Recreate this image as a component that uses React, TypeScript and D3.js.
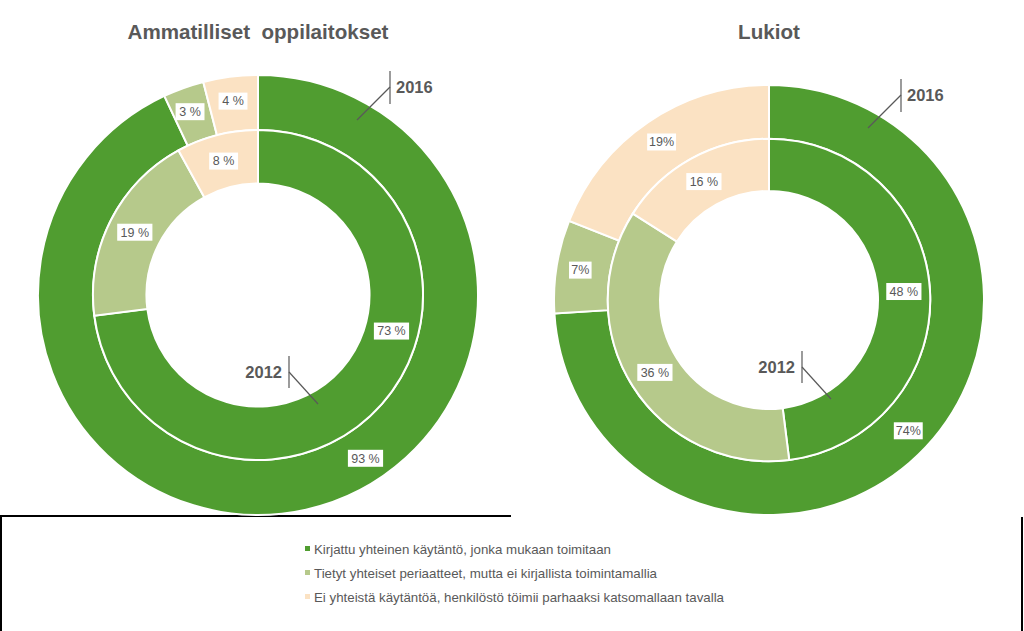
import React from "react";
import * as d3 from "d3";

const categories = [
  "Kirjattu yhteinen käytäntö, jonka mukaan toimitaan",
  "Tietyt yhteiset periaatteet, mutta ei kirjallista toimintamallia",
  "Ei yhteistä käytäntöä, henkilöstö töimii parhaaksi katsomallaan tavalla",
];
const chartTitles = ["Ammatilliset oppilaitokset", "Lukiot"];
const seriesNames = ["2016", "2012"];
const amm2016 = [93, 3, 4];
const amm2012 = [73, 19, 8];
const luk2016 = [74, 7, 19];
const luk2012 = [48, 36, 16];
const ammLabels2016 = ["93 %", "3 %", "4 %"];
const ammLabels2012 = ["73 %", "19 %", "8 %"];
const lukLabels2016 = ["74%", "7%", "19%"];
const lukLabels2012 = ["48 %", "36 %", "16 %"];

const colors = ["#509D30", "#B6C98B", "#FBE2C3"];
const textGray = "#595959";
const legendTextWidths = [297, 343, 410];

const W = 1024;
const H = 631;

type ChartCfg = {
  title: string;
  cx: number;
  cy: number;
  r: number;
  outer: number[];
  inner: number[];
  outerLabels: string[];
  innerLabels: string[];
  outerFrac: number[];
  innerFrac: number[];
  a2016: { dx: number; dy: number };
  a2012: { dx: number; dy: number };
};

const charts: ChartCfg[] = [
  {
    title: chartTitles[0],
    cx: 258,
    cy: 295,
    r: 220,
    outer: amm2016,
    inner: amm2012,
    outerLabels: ammLabels2016,
    innerLabels: ammLabels2012,
    outerFrac: [0.438, 0.45, 0.49],
    innerFrac: [0.4, 0.5, 0.5],
    a2016: { dx: 132, dy: -208 },
    a2012: { dx: 31, dy: 77 },
  },
  {
    title: chartTitles[1],
    cx: 769,
    cy: 300,
    r: 215,
    outer: luk2016,
    inner: luk2012,
    outerLabels: lukLabels2016,
    innerLabels: lukLabels2012,
    outerFrac: [0.5, 0.5, 0.5],
    innerFrac: [0.5, 0.5, 0.5],
    a2016: { dx: 132, dy: -205 },
    a2012: { dx: 33, dy: 67 },
  },
];

function Label({ x, y, text }: { x: number; y: number; text: string }) {
  const w = text.length * 6.3 + 10;
  return (
    <g>
      <rect x={x - w / 2} y={y - 8.5} width={w} height={17} fill="#fff" />
      <text
        x={x}
        y={y + 4.3}
        textAnchor="middle"
        fontSize={12.5}
        fill={textGray}
        fontFamily="Liberation Sans, Arial, sans-serif"
      >
        {text}
      </text>
    </g>
  );
}

function Donut({ c }: { c: ChartCfg }) {
  const pie = d3.pie<number>().sort(null).value((d) => d);
  const rO = c.r;
  const rM = c.r * 0.75;
  const rI = c.r * 0.507;
  const outerArcs = pie(c.outer);
  const innerArcs = pie(c.inner);
  const arcO = d3.arc<d3.PieArcDatum<number>>().innerRadius(rM).outerRadius(rO);
  const arcI = d3.arc<d3.PieArcDatum<number>>().innerRadius(rI).outerRadius(rM);
  const pos = (a: d3.PieArcDatum<number>, f: number, rr: number) => {
    const ang = a.startAngle + f * (a.endAngle - a.startAngle);
    return [Math.sin(ang) * rr, -Math.cos(ang) * rr];
  };
  const s = c.r / 220;
  return (
    <g>
      <text
        x={c.cx}
        y={39}
        textAnchor="middle"
        fontSize={20.6}
        fontWeight="bold"
        fill={textGray}
        fontFamily="Liberation Sans, Arial, sans-serif"
        style={{ whiteSpace: "pre" }}
      >
        {c.title.replace(" ", "  ")}
      </text>
      <g transform={`translate(${c.cx},${c.cy})`}>
        {outerArcs.map((a, i) => (
          <path key={"o" + i} d={arcO(a) || ""} fill={colors[i]} stroke="#fff" strokeWidth={2} />
        ))}
        {innerArcs.map((a, i) => (
          <path key={"i" + i} d={arcI(a) || ""} fill={colors[i]} stroke="#fff" strokeWidth={2} />
        ))}
        {outerArcs.map((a, i) => {
          const [x, y] = pos(a, c.outerFrac[i], (rM + rO) / 2 + 3 * s);
          return <Label key={"lo" + i} x={x} y={y} text={c.outerLabels[i]} />;
        })}
        {innerArcs.map((a, i) => {
          const [x, y] = pos(a, c.innerFrac[i], (rI + rM) / 2);
          return <Label key={"li" + i} x={x} y={y} text={c.innerLabels[i]} />;
        })}
        <g stroke={textGray} strokeWidth={1.2}>
          <line x1={c.a2016.dx} x2={c.a2016.dx} y1={c.a2016.dy - 16} y2={c.a2016.dy + 17} />
          <line x1={c.a2016.dx} x2={c.a2016.dx - 33} y1={c.a2016.dy} y2={c.a2016.dy + 33} />
        </g>
        <text
          x={c.a2016.dx + 6}
          y={c.a2016.dy + 6}
          fontSize={16.5}
          fontWeight="bold"
          fill={textGray}
          fontFamily="Liberation Sans, Arial, sans-serif"
        >
          {seriesNames[0]}
        </text>
        <g stroke={textGray} strokeWidth={1.2}>
          <line x1={c.a2012.dx} x2={c.a2012.dx} y1={c.a2012.dy - 16} y2={c.a2012.dy + 16} />
          <line x1={c.a2012.dx} x2={c.a2012.dx + 29} y1={c.a2012.dy} y2={c.a2012.dy + 32} />
        </g>
        <text
          x={c.a2012.dx - 7}
          y={c.a2012.dy + 6}
          textAnchor="end"
          fontSize={16.5}
          fontWeight="bold"
          fill={textGray}
          fontFamily="Liberation Sans, Arial, sans-serif"
        >
          {seriesNames[1]}
        </text>
      </g>
    </g>
  );
}

export default function App() {
  const legendY = d3.scaleBand<number>().domain([0, 1, 2]).range([537, 609]);
  return (
    <svg
      width={W}
      height={H}
      style={{ position: "absolute", left: 0, top: 0, background: "#fff" }}
    >
      <rect width={W} height={H} fill="#fff" />
      <g stroke="#000" strokeWidth={2} fill="none">
        <line x1={0} x2={511} y1={516} y2={516} />
        <line x1={1} x2={1} y1={516} y2={H} />
        <line x1={1022} x2={1022} y1={517} y2={H} />
      </g>
      {charts.map((c, i) => (
        <Donut key={i} c={c} />
      ))}
      {categories.map((cat, i) => {
        const y = (legendY(i) || 0) + legendY.bandwidth() / 2;
        return (
          <g key={i}>
            <rect x={305} y={y - 3} width={5} height={5} fill={colors[i]} />
            <text
              x={314}
              y={y + 4.5}
              fontSize={13}
              fill={textGray}
              fontFamily="Liberation Sans, Arial, sans-serif"
              textLength={legendTextWidths[i]}
              lengthAdjust="spacingAndGlyphs"
            >
              {cat}
            </text>
          </g>
        );
      })}
    </svg>
  );
}
